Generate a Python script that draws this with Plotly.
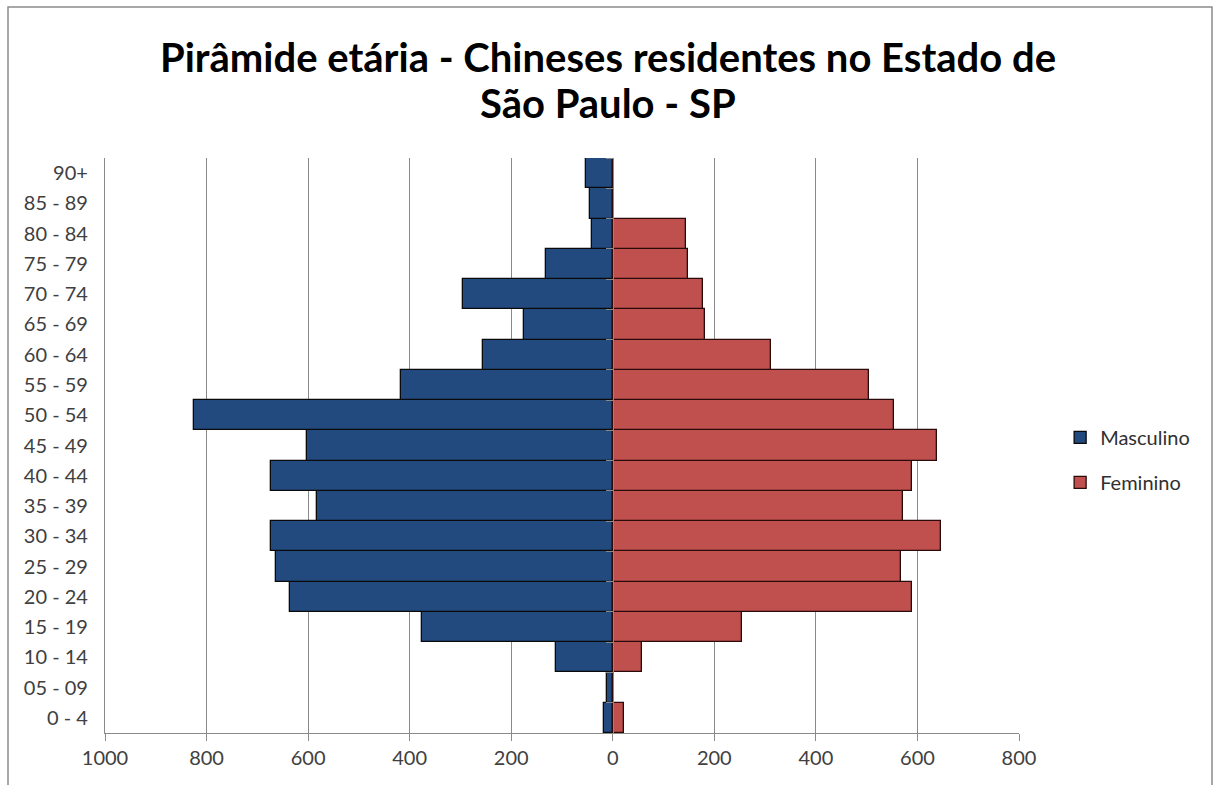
import plotly.graph_objects as go

age_groups = ["0 - 4", "05 - 09", "10 - 14", "15 - 19", "20 - 24", "25 - 29", "30 - 34",
              "35 - 39", "40 - 44", "45 - 49", "50 - 54", "55 - 59", "60 - 64", "65 - 69",
              "70 - 74", "75 - 79", "80 - 84", "85 - 89", "90+"]
masculino = [17, 12, 111, 376, 635, 663, 674, 583, 674, 603, 825, 417, 255, 174, 294, 132, 41, 45, 52]
feminino = [22, 0, 58, 255, 589, 567, 646, 571, 589, 638, 554, 504, 311, 182, 178, 149, 145, 0, 0]

tick_vals = [-1000, -800, -600, -400, -200, 0, 200, 400, 600, 800]
tick_text = ["1000", "800", "600", "400", "200", "0", "200", "400", "600", "800"]

title_lines = ["Pirâmide etária - Chineses residentes no Estado de", "São Paulo - SP"]

blue = "#224A7F"
red = "#C0504D"
grid = "#8A8A8A"
font_fam = "Lato, 'Open Sans', sans-serif"

fig = go.Figure()
fig.add_trace(go.Bar(
    y=age_groups, x=[-v for v in masculino], orientation="h", name="Masculino",
    marker=dict(color=blue, line=dict(color="#0a0a0a", width=1.3)),
    legendgroup="m",
))
fig.add_trace(go.Bar(
    y=age_groups, x=feminino, orientation="h", name="Feminino",
    marker=dict(color=red, line=dict(color="#2a0a0a", width=1.3)),
    legendgroup="f",
))
# invisible trace to carry the centre category axis (tick marks at x=0)
fig.add_trace(go.Scatter(
    y=age_groups, x=[0] * len(age_groups), yaxis="y2", mode="markers",
    marker=dict(opacity=0), showlegend=False, hoverinfo="skip",
))

pos0 = (0 - (-1000)) / (800 - (-1000))

annotations = []
for txt, ypx in zip(title_lines, [57, 103]):
    annotations.append(dict(
        text=txt, xref="paper", yref="paper",
        x=(608 - 105) / 914, y=(733 - ypx) / 575,
        xanchor="center", yanchor="middle", showarrow=False,
        font=dict(family=font_fam, size=40, color="#000000", weight="bold"),
    ))

fig.update_layout(
    width=1216, height=785,
    margin=dict(l=105, r=197, t=158, b=52),
    paper_bgcolor="white", plot_bgcolor="white",
    barmode="overlay", bargap=0,
    font=dict(family=font_fam, color="#404040"),
    annotations=annotations,
    xaxis=dict(
        range=[-1000, 800], tickvals=tick_vals, ticktext=tick_text,
        showgrid=True, gridcolor=grid, gridwidth=1,
        showline=True, linecolor=grid, linewidth=1.2,
        ticks="outside", ticklen=7, tickcolor=grid, tickwidth=1,
        tickfont=dict(size=20, color="#404040"), zeroline=False,
    ),
    yaxis=dict(
        type="category", categoryorder="array", categoryarray=age_groups,
        range=[-0.5, len(age_groups) - 0.5],
        showline=True, linecolor=grid, linewidth=1.2,
        ticks="", tickfont=dict(size=20, color="#404040"),
        ticklabelstandoff=12, showgrid=False,
    ),
    yaxis2=dict(
        type="category", categoryorder="array", categoryarray=age_groups,
        range=[-0.5, len(age_groups) - 0.5],
        overlaying="y", anchor="free", position=pos0, side="left",
        showline=True, linecolor=grid, linewidth=1.2,
        ticks="outside", tickson="boundaries", ticklen=7, tickcolor=grid,
        showticklabels=False, showgrid=False,
    ),
    legend=dict(
        x=1.045, xanchor="left", y=0.475, yanchor="middle",
        font=dict(size=20, color="#303030"),
        traceorder="grouped", tracegroupgap=16,
        itemwidth=30, bgcolor="rgba(0,0,0,0)",
    ),
    shapes=[dict(
        type="rect", xref="paper", yref="paper",
        x0=(8 - 105) / 914, x1=(1212 - 105) / 914,
        y0=(733 - 800) / 575, y1=(733 - 7) / 575,
        line=dict(color="#8C8C8C", width=1.5), fillcolor="rgba(0,0,0,0)", layer="below",
    )],
)

fig.write_html("out.html")
